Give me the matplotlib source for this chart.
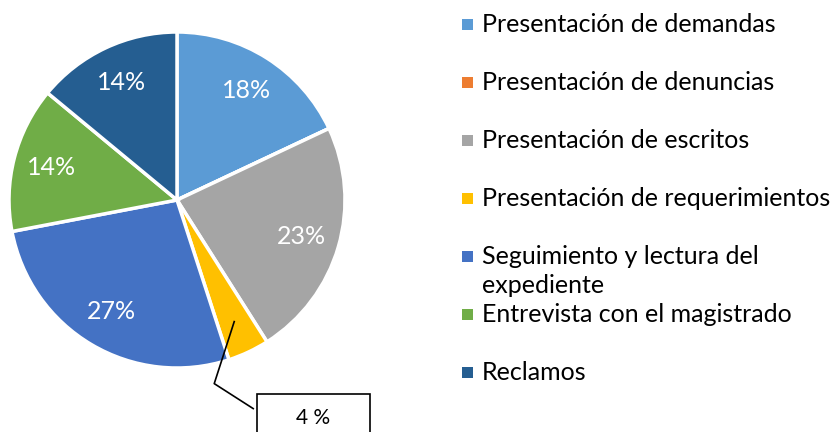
import numpy as np
import matplotlib
matplotlib.use('Agg')
import matplotlib.pyplot as plt
from matplotlib.patches import Rectangle

plt.rcParams['font.family'] = ['Lato', 'DejaVu Sans']

# data
categories = ['Presentación de demandas', 'Presentación de denuncias',
              'Presentación de escritos', 'Presentación de requerimientos',
              'Seguimiento y lectura del\nexpediente',
              'Entrevista con el magistrado', 'Reclamos']
values = [18, 0, 23, 4, 27, 14, 14]
colors = ['#5B9BD5', '#ED7D31', '#A5A5A5', '#FFC000', '#4472C4', '#70AD47', '#255E91']
callout_label = '4 %'

W, H = 830, 432
fig = plt.figure(figsize=(W / 100, H / 100), dpi=100)
ax = fig.add_axes([0, 0, 1, 1])

# pie in pixel-like coordinates (y up)
cx, cy, r = 177, H - 200, 168


def pct(p):
    return '' if p < 5 else '%d%%' % round(p)


wedges, texts, autotexts = ax.pie(values, colors=colors, startangle=90, counterclock=False,
                                  center=(cx, cy), radius=r, autopct=pct, pctdistance=0.77,
                                  wedgeprops=dict(edgecolor='white', linewidth=2.5),
                                  textprops=dict(color='white', fontsize=18))
ax.set_xlim(0, W)
ax.set_ylim(0, H)
ax.set_aspect('equal')
ax.axis('off')

# callout for the small slice
i_small = values.index(4)
w = wedges[i_small]
mid = np.deg2rad((w.theta1 + w.theta2) / 2)
ax0 = cx + 0.8 * r * np.cos(mid)
ay0 = cy + 0.8 * r * np.sin(mid)
xs = [ax0, ax0 - 20, ax0 + 19]
ys = [ay0, ay0 - 62, ay0 - 87]
ax.plot(xs, ys, color='black', lw=1.2, clip_on=False)
ax.add_patch(Rectangle((ax0 + 23, -10), 113, ay0 - 72 + 10, fill=False,
                       edgecolor='black', lw=1.2, clip_on=False))
ax.text(ax0 + 79, ay0 - 96, callout_label, ha='center', va='center', fontsize=15, color='black')

# legend
lx, ly0, step = 467, H - 24, 58
for k, (lab, col) in enumerate(zip(categories, colors)):
    y = ly0 - k * step
    ax.add_patch(Rectangle((lx - 5.5, y - 5.5), 11, 11, facecolor=col, edgecolor='none'))
    ax.text(lx + 15, y + 11, lab, ha='left', va='top', fontsize=18,
            color='black', linespacing=1.3)

fig.savefig('out.png', dpi=100)
